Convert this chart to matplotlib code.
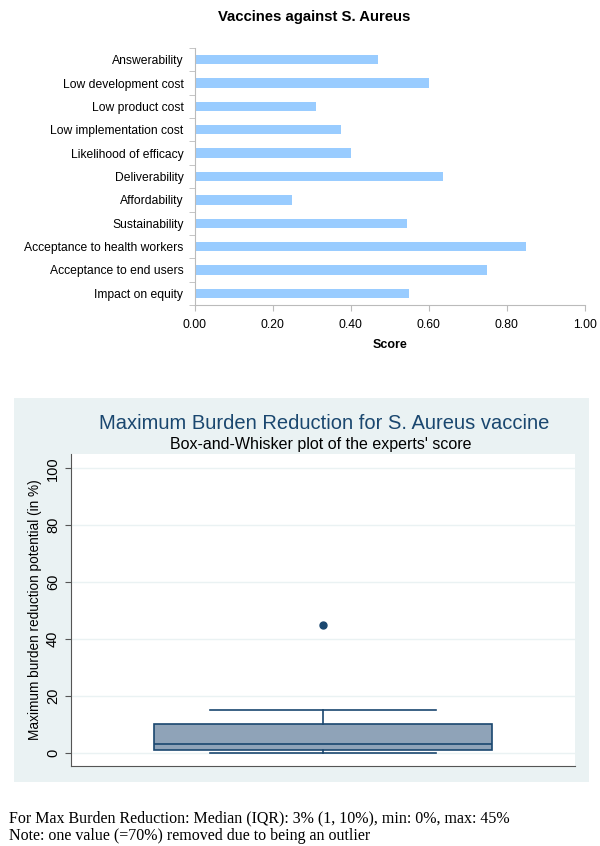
import matplotlib
matplotlib.use("Agg")
import matplotlib.pyplot as plt
from matplotlib.patches import Rectangle

plt.rcParams['font.family'] = ['Liberation Sans', 'DejaVu Sans']

# --- data: top bar chart
criteria = ['Answerability', 'Low development cost', 'Low product cost',
            'Low implementation cost', 'Likelihood of efficacy', 'Deliverability',
            'Affordability', 'Sustainability', 'Acceptance to health workers',
            'Acceptance to end users', 'Impact on equity']
scores = [0.47, 0.60, 0.31, 0.375, 0.40, 0.635, 0.25, 0.545, 0.85, 0.75, 0.55]
score_ticks = [0.0, 0.2, 0.4, 0.6, 0.8, 1.0]

# --- data: box plot (experts' max burden reduction, %)
burden_median = 3
burden_q1 = 1
burden_q3 = 10
burden_whislo = 0
burden_whishi = 15
burden_outliers = [45]
burden_ticks = [0, 20, 40, 60, 80, 100]

W, H = 600, 846
fig = plt.figure(figsize=(6, 8.46), dpi=100)


def px_axes(left, top, right, bottom):
    return fig.add_axes([left / W, 1 - bottom / H, (right - left) / W, (bottom - top) / H])


# ---------- top chart ----------
ax1 = px_axes(194.6, 48, 585, 305)
ypos = list(range(len(criteria)))[::-1]
ax1.barh(ypos, scores, height=0.4, color='#99CCFF')
ax1.set_xlim(0, 1.0)
ax1.set_ylim(-0.5, len(criteria) - 0.5)
ax1.set_xticks(score_ticks)
ax1.set_xticklabels(['%.2f' % t for t in score_ticks], fontsize=8.7)
ax1.set_yticks(ypos)
ax1.set_yticklabels(criteria, fontsize=8.7)
ax1.set_yticks([i - 0.5 for i in range(len(criteria) + 1)], minor=True)
ax1.tick_params(axis='y', which='major', length=0, pad=8)
ax1.tick_params(axis='y', which='minor', length=4, color='#BBBBBB')
ax1.tick_params(axis='x', length=4, color='#BBBBBB', pad=6)
for s in ['top', 'right']:
    ax1.spines[s].set_visible(False)
for s in ['left', 'bottom']:
    ax1.spines[s].set_color('#BBBBBB')
ax1.set_xlabel('Score', fontsize=9, fontweight='bold', labelpad=6)
fig.text(314 / W, 1 - 17 / H, 'Vaccines against S. Aureus', ha='center', va='center',
         fontsize=10.7, fontweight='bold')

# ---------- bottom chart ----------
panel = Rectangle((14 / W, 1 - 782 / H), (589 - 14) / W, (782 - 398) / H,
                  transform=fig.transFigure, facecolor='#EAF2F3',
                  edgecolor='none', zorder=-1)
fig.patches.append(panel)
ax2 = px_axes(71, 454, 575, 766)
ax2.set_facecolor('white')
stats = [dict(med=burden_median, q1=burden_q1, q3=burden_q3,
              whislo=burden_whislo, whishi=burden_whishi, fliers=burden_outliers)]
navy = '#1a476f'
ax2.bxp(stats, positions=[0], widths=1.34, capwidths=0.9, patch_artist=True,
        boxprops=dict(facecolor='#8FA3B8', edgecolor=navy, linewidth=1.2),
        medianprops=dict(color=navy, linewidth=1.2),
        whiskerprops=dict(color=navy, linewidth=1.2),
        capprops=dict(color=navy, linewidth=1.2),
        flierprops=dict(marker='o', markerfacecolor=navy, markeredgecolor=navy,
                        markersize=5))
ax2.set_xlim(-1, 1)
ax2.set_ylim(-4.7, 105)
ax2.set_xticks([])
ax2.set_yticks(burden_ticks)
ax2.set_yticklabels([str(t) for t in burden_ticks], fontsize=10.5, rotation=90, va='center')
ax2.tick_params(axis='y', length=4, color='#555555', pad=4)
ax2.grid(axis='y', color='#EAF2F3', linewidth=1)
ax2.set_axisbelow(True)
for s in ['top', 'right']:
    ax2.spines[s].set_visible(False)
for s in ['left', 'bottom']:
    ax2.spines[s].set_color('#555555')
ax2.set_ylabel('Maximum burden reduction potential (in %)', fontsize=9.8, labelpad=3)

fig.text(324 / W, 1 - 423 / H, 'Maximum Burden Reduction for S. Aureus vaccine',
         ha='center', va='center', fontsize=14.5, color=navy)
fig.text(321 / W, 1 - 444 / H, "Box-and-Whisker plot of the experts' score",
         ha='center', va='center', fontsize=11.5, color='black')

serif = ['Liberation Serif', 'DejaVu Serif']
fig.text(9 / W, 1 - 818 / H,
         'For Max Burden Reduction: Median (IQR): 3% (1, 10%), min: 0%, max: 45%',
         ha='left', va='center', fontsize=11.5, family=serif)
fig.text(9 / W, 1 - 836 / H,
         'Note: one value (=70%) removed due to being an outlier',
         ha='left', va='center', fontsize=11.5, family=serif)

fig.savefig('out.png', dpi=100)
